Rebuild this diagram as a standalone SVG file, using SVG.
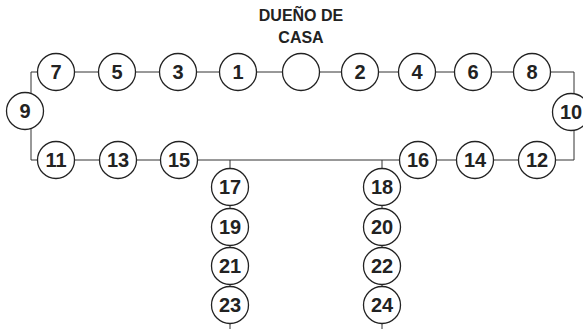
<svg xmlns="http://www.w3.org/2000/svg" width="583" height="329" viewBox="0 0 583 329">
<style>
.c{fill:#fff;stroke:#222;stroke-width:1.3}
.t{font-family:"Liberation Sans",Arial,sans-serif;font-weight:bold;font-size:20px;fill:#222;text-anchor:middle}
.h{font-family:"Liberation Sans",Arial,sans-serif;font-weight:bold;font-size:16px;fill:#222;text-anchor:middle}
.l{fill:none;stroke:#333;stroke-width:1}
</style>
<rect width="583" height="329" fill="#fff"/>
<g id="connectors">
<polyline class="l" points="56,72 31,72 31,160 56,160"/>
<line class="l" x1="56" y1="72" x2="532" y2="72"/>
<polyline class="l" points="532,72 574,72 574,160 537,160"/>
<line class="l" x1="56" y1="160" x2="537" y2="160"/>
<line class="l" x1="230" y1="160" x2="230" y2="329"/>
<line class="l" x1="382" y1="160" x2="382" y2="329"/>
</g>
<text class="h" x="301" y="21">DUEÑO DE</text>
<text class="h" x="301" y="43">CASA</text>
<g id="owner"><circle class="c" cx="301" cy="72" r="18.5"/></g>
<g id="n1"><circle class="c" cx="238" cy="72" r="18.5"/><text class="t" x="238" y="79">1</text></g>
<g id="n3"><circle class="c" cx="178" cy="72" r="18.5"/><text class="t" x="178" y="79">3</text></g>
<g id="n5"><circle class="c" cx="117" cy="72" r="18.5"/><text class="t" x="117" y="79">5</text></g>
<g id="n7"><circle class="c" cx="56" cy="72" r="18.5"/><text class="t" x="56" y="79">7</text></g>
<g id="n2"><circle class="c" cx="360" cy="72" r="18.5"/><text class="t" x="360" y="79">2</text></g>
<g id="n4"><circle class="c" cx="417" cy="72" r="18.5"/><text class="t" x="417" y="79">4</text></g>
<g id="n6"><circle class="c" cx="473" cy="72" r="18.5"/><text class="t" x="473" y="79">6</text></g>
<g id="n8"><circle class="c" cx="532" cy="72" r="18.5"/><text class="t" x="532" y="79">8</text></g>
<g id="n9"><circle class="c" cx="25" cy="111" r="18.5"/><text class="t" x="25" y="118">9</text></g>
<g id="n10"><circle class="c" cx="571" cy="112" r="18.5"/><text class="t" x="571" y="119">10</text></g>
<g id="n11"><circle class="c" cx="56" cy="160" r="18.5"/><text class="t" x="56" y="167">11</text></g>
<g id="n13"><circle class="c" cx="118" cy="160" r="18.5"/><text class="t" x="118" y="167">13</text></g>
<g id="n15"><circle class="c" cx="179" cy="160" r="18.5"/><text class="t" x="179" y="167">15</text></g>
<g id="n16"><circle class="c" cx="418" cy="160" r="18.5"/><text class="t" x="418" y="167">16</text></g>
<g id="n14"><circle class="c" cx="475" cy="160" r="18.5"/><text class="t" x="475" y="167">14</text></g>
<g id="n12"><circle class="c" cx="537" cy="160" r="18.5"/><text class="t" x="537" y="167">12</text></g>
<g id="n17"><circle class="c" cx="230" cy="187" r="18.5"/><text class="t" x="230" y="194">17</text></g>
<g id="n19"><circle class="c" cx="230" cy="227" r="18.5"/><text class="t" x="230" y="234">19</text></g>
<g id="n21"><circle class="c" cx="230" cy="266" r="18.5"/><text class="t" x="230" y="273">21</text></g>
<g id="n23"><circle class="c" cx="230" cy="305" r="18.5"/><text class="t" x="230" y="312">23</text></g>
<g id="n18"><circle class="c" cx="382" cy="187" r="18.5"/><text class="t" x="382" y="194">18</text></g>
<g id="n20"><circle class="c" cx="382" cy="227" r="18.5"/><text class="t" x="382" y="234">20</text></g>
<g id="n22"><circle class="c" cx="382" cy="266" r="18.5"/><text class="t" x="382" y="273">22</text></g>
<g id="n24"><circle class="c" cx="382" cy="305" r="18.5"/><text class="t" x="382" y="312">24</text></g>
</svg>
